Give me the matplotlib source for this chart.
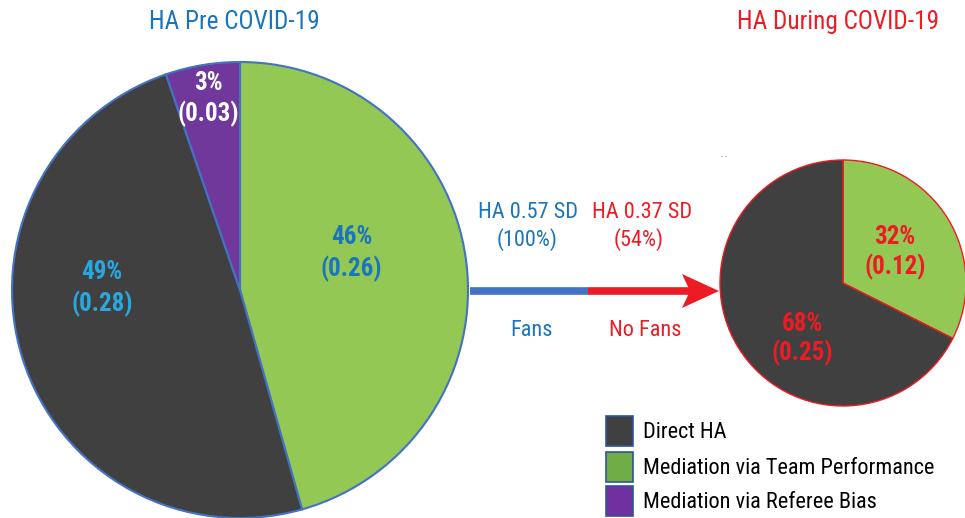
import matplotlib
matplotlib.use("Agg")
import matplotlib.pyplot as plt
from matplotlib import font_manager
from matplotlib.patches import Rectangle, Polygon

_names = {f.name for f in font_manager.fontManager.ttflist}
FONT = 'DejaVu Sans'
for cand in ['Roboto Condensed', 'Liberation Sans Narrow', 'Arial Narrow', 'Roboto', 'Liberation Sans']:
    if cand in _names:
        FONT = cand
        break
plt.rcParams['font.family'] = [FONT, 'DejaVu Sans']

# ---- data ----
pre_labels = ["Mediation via Team Performance", "Direct HA", "Mediation via Referee Bias"]
pre_values = [0.26, 0.28, 0.03]
pre_pct = ["46%", "49%", "3%"]
during_labels = ["Mediation via Team Performance", "Direct HA"]
during_values = [0.12, 0.25]
during_pct = ["32%", "68%"]
legend_labels = ["Direct HA", "Mediation via Team Performance", "Mediation via Referee Bias"]
ha_pre = "HA 0.57 SD"
ha_pre_pct = "(100%)"
ha_during = "HA 0.37 SD"
ha_during_pct = "(54%)"

W, H = 965, 518
fig = plt.figure(figsize=(W / 100, H / 100), dpi=100)
ax = fig.add_axes([0, 0, 1, 1])

DARK = '#404040'
GREEN = '#92C853'
PURPLE = '#70389A'
BLUE_T = '#1B75BC'
LBLUE_T = '#29A8E0'
RED = '#ED1C24'

def Y(y):
    return H - y

# left pie
ax.pie(pre_values, colors=[GREEN, DARK, PURPLE], startangle=90, counterclock=False,
       center=(240, Y(290)), radius=228,
       wedgeprops=dict(edgecolor='#4472C4', linewidth=1.5))
# right pie
ax.pie(during_values, colors=[GREEN, DARK], startangle=90, counterclock=False,
       center=(843, Y(283)), radius=123,
       wedgeprops=dict(edgecolor=RED, linewidth=1.0))

ax.set_xlim(0, W)
ax.set_ylim(0, H)
ax.set_aspect('equal')
ax.axis('off')

# titles
ax.text(234, Y(22), "HA Pre COVID-19", color=BLUE_T, fontsize=18.2, ha='center', va='center')
ax.text(838, Y(22), "HA During COVID-19", color=RED, fontsize=18.2, ha='center', va='center')

# pie labels
lab_kw = dict(fontsize=18, fontweight='bold', ha='center', va='center')
ax.text(352, Y(237), pre_pct[0], color=BLUE_T, **lab_kw)
ax.text(351, Y(269), f"({pre_values[0]:.2f})", color=BLUE_T, **lab_kw)
ax.text(102, Y(272), pre_pct[1], color=LBLUE_T, **lab_kw)
ax.text(102, Y(304), f"({pre_values[1]:.2f})", color=LBLUE_T, **lab_kw)
ax.text(208, Y(83), pre_pct[2], color='white', **lab_kw)
ax.text(208, Y(114), f"({pre_values[2]:.2f})", color='white', **lab_kw)
ax.text(895, Y(237), during_pct[0], color=RED, **lab_kw)
ax.text(895, Y(267), f"({during_values[0]:.2f})", color=RED, **lab_kw)
ax.text(802, Y(324), during_pct[1], color=RED, **lab_kw)
ax.text(802, Y(353), f"({during_values[1]:.2f})", color=RED, **lab_kw)

# arrow
ax.plot([470, 588], [Y(291), Y(291)], color='#4472C4', linewidth=5.5, solid_capstyle='butt')
ax.plot([588, 690], [Y(291), Y(291)], color=RED, linewidth=5.5, solid_capstyle='butt')
ax.add_patch(Polygon([[682, Y(274)], [719, Y(291)], [682, Y(308)], [690, Y(291)]],
                     closed=True, facecolor=RED, edgecolor='none'))

mid_kw = dict(fontsize=16, ha='center', va='center')
ax.text(528, Y(212), ha_pre, color=BLUE_T, **mid_kw)
ax.text(527, Y(240), ha_pre_pct, color=BLUE_T, **mid_kw)
ax.text(642, Y(212), ha_during, color=RED, **mid_kw)
ax.text(639, Y(240), ha_during_pct, color=RED, **mid_kw)
ax.text(532, Y(330), "Fans", color=BLUE_T, **mid_kw)
ax.text(645, Y(330), "No Fans", color=RED, **mid_kw)

ax.text(724, Y(157), "- -", color='#888888', fontsize=6, ha='center', va='center')

# legend
leg_colors = [DARK, '#70AD47', '#7030A0']
leg_tops = [416, 452, 486]
for lab, col, top in zip(legend_labels, leg_colors, leg_tops):
    ax.add_patch(Rectangle((606, Y(top + 30)), 27, 30, facecolor=col, edgecolor='#2F5597', linewidth=1.2))
    ax.text(643, Y(top + 16), lab, color='black', fontsize=16, ha='left', va='center')

fig.savefig("out.png", dpi=100)
